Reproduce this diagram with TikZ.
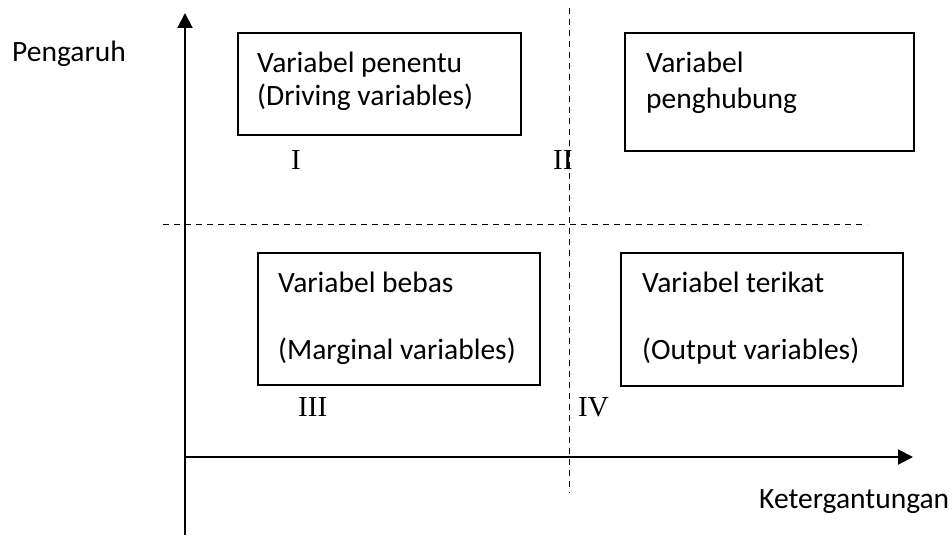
\documentclass[tikz,border=0pt]{standalone}
\usepackage{fontspec}
\setmainfont{Carlito}
\newfontfamily\romanfont{Liberation Serif}
\usetikzlibrary{arrows.meta}
\begin{document}
\begin{tikzpicture}[x=1pt,y=-1pt,
  txt/.style={anchor=base west,inner sep=0pt,font=\fontsize{29.5}{35}\selectfont},
  num/.style={anchor=base west,inner sep=0pt,font=\romanfont\fontsize{29}{33}\selectfont},
  box/.style={draw,line width=1.6pt},
  axis/.style={line width=2pt,-{Triangle[length=15pt,width=15pt]}},
  divline/.style={line width=1pt,dash pattern=on 6pt off 5pt}]
\useasboundingbox (0,0) rectangle (952,535);
% dashed dividers
\coordinate (vt) at (569,8);
\coordinate (vb) at (569,493);
\coordinate (hl) at (163,224);
\coordinate (hr) at (867,224);
\draw[divline] (vt) -- (vb);
\draw[divline] (hl) -- (hr);
% axes
\coordinate (ybot) at (185,535);
\coordinate (ytop) at (185,13);
\coordinate (xl) at (185,457);
\coordinate (xr) at (913,457);
\draw[axis] (ybot) -- (ytop);
\draw[axis] (xl) -- (xr);
% boxes
\node[box,inner sep=0pt,anchor=north west,minimum width=283pt,minimum height=102pt] (b1) at (237,32) {};
\node[box,inner sep=0pt,anchor=north west,minimum width=289pt,minimum height=118pt] (b2) at (624,32) {};
\node[box,inner sep=0pt,anchor=north west,minimum width=282pt,minimum height=132pt] (b3) at (257,252) {};
\node[box,inner sep=0pt,anchor=north west,minimum width=282pt,minimum height=133pt] (b4) at (620,252) {};
% box texts
\node[txt] (t1a) at (257,72) {Variabel penentu};
\node[txt] (t1b) at (257,105) {(Driving variables)};
\node[txt] (t2a) at (646,72) {Variabel};
\node[txt] (t2b) at (646,108) {penghubung};
\node[txt] (t3a) at (278,292) {Variabel bebas};
\node[txt] (t3b) at (278,359) {(Marginal variables)};
\node[txt] (t4a) at (642,292) {Variabel terikat};
\node[txt] (t4b) at (642,359) {(Output variables)};
% quadrant numbers
\node[num] (n1) at (291,169) {I};
\node[num] (n2) at (553,169) {II};
\node[num] (n3) at (298,416) {III};
\node[num] (n4) at (578,416) {IV};
% axis labels
\node[txt] (py) at (12,62) {Pengaruh};
\node[txt] (px) at (759,508) {Ketergantungan};
\end{tikzpicture}
\end{document}
